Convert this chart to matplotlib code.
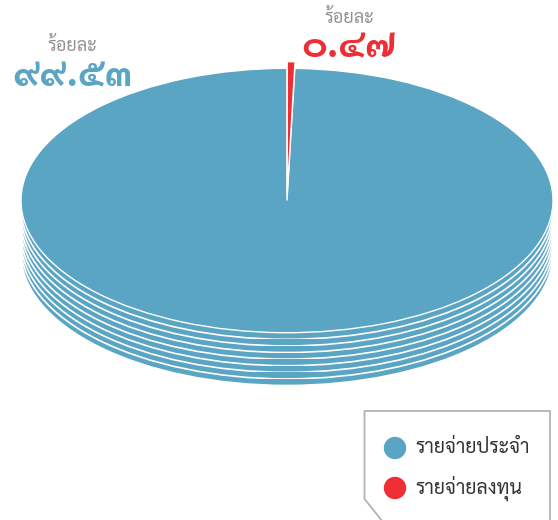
import matplotlib
matplotlib.use("Agg")
import matplotlib.pyplot as plt
from matplotlib.patches import Ellipse, Polygon, Circle

# data
labels = ["รายจ่ายประจำ", "รายจ่ายลงทุน"]
values = [99.53, 0.47]
value_text = ["๙๙.๕๓", "๐.๔๗"]
colors = ["#5aa5c3", "#ee2d34"]

thai = ["Sarabun", "Noto Sans Thai", "DejaVu Sans"]
plt.rcParams["font.family"] = thai

W, H = 558, 520
fig = plt.figure(figsize=(W / 100, H / 100), dpi=100)

# pie geometry in pixels
cx, top, rx, ry = 287, 68.3, 266, 132.2
n_layers = 8
step = 6.6


def pie_axes(y_top):
    return fig.add_axes([(cx - rx) / W, 1 - (y_top + 2 * ry) / H, 2 * rx / W, 2 * ry / H])


# side layers, bottom one first
for k in range(n_layers, 0, -1):
    ax = pie_axes(top + k * step)
    ax.add_patch(Ellipse((0, 0), 2, 2, facecolor=colors[0], edgecolor="white", lw=1.2))
    ax.set_xlim(-1, 1)
    ax.set_ylim(-1, 1)
    ax.axis("off")

# top face
ax = pie_axes(top)
ax.pie(values, colors=colors, startangle=90, counterclock=True,
       explode=[0, 0.05], wedgeprops={"edgecolor": "white", "linewidth": 1.0, "clip_on": False})
ax.set_aspect("auto")
ax.set_xlim(-1, 1)
ax.set_ylim(-1, 1)
ax.axis("off")

# overlay in pixel coordinates for text and legend
ov = fig.add_axes([0, 0, 1, 1])
ov.set_xlim(0, W)
ov.set_ylim(H, 0)
ov.axis("off")

ov.text(72, 46, "ร้อยละ", ha="center", va="center", fontsize=13, color="#939393")
ov.text(72, 76, value_text[0], ha="center", va="center", fontsize=28, fontweight="bold", color=colors[0])
ov.text(349, 18, "ร้อยละ", ha="center", va="center", fontsize=13, color="#939393")
ov.text(349, 47, value_text[1], ha="center", va="center", fontsize=28, fontweight="bold", color=colors[1])

# legend box with cut corner
ov.add_patch(Polygon([(383, 522), (364.5, 499), (364.5, 411), (550, 411), (550, 522)],
                     closed=False, fill=False, edgecolor="#b3b3b3", lw=1.3))
for i, (lab, col) in enumerate(zip(labels, colors)):
    y = 448 + i * 40
    ov.add_patch(Circle((395, y), 10.5, color=col))
    ov.text(415, y, lab, ha="left", va="center", fontsize=14, color="#333333")

fig.savefig("out.png", dpi=100)
